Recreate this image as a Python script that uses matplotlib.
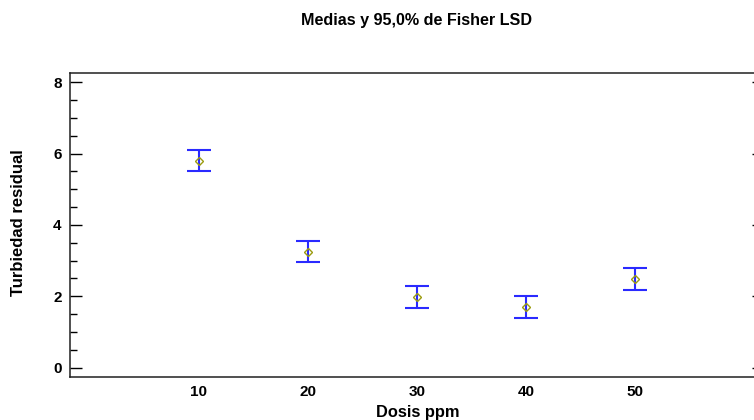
import matplotlib
matplotlib.use("Agg")
import matplotlib.pyplot as plt
from matplotlib.ticker import MultipleLocator

dosis = [10, 20, 30, 40, 50]
medias = [5.80, 3.25, 1.98, 1.70, 2.49]
lsd_half = [0.295, 0.30, 0.30, 0.30, 0.305]
titulo = "Medias y 95,0% de Fisher LSD"
xlabel = "Dosis ppm"
ylabel = "Turbiedad residual"

plt.rcParams['font.family'] = ['Liberation Sans', 'DejaVu Sans']

fig = plt.figure(figsize=(7.54, 4.20), dpi=100)
W, H = 754, 420
left, right, top, bottom = 70, 763.5, 72.7, 376.5
ax = fig.add_axes([left / W, 1 - bottom / H, (right - left) / W, (bottom - top) / H])

ax.errorbar(dosis, medias, yerr=lsd_half, fmt='none', ecolor='#2a2aff',
            elinewidth=1.5, capsize=8.3, capthick=1.5, zorder=2)
ax.plot(dosis, medias, linestyle='none', marker='D', markersize=4.5,
        markerfacecolor='none', markeredgecolor='#9c9c10', markeredgewidth=1.0, zorder=3)

ax.set_xlim(-1.8, 61.8)
ax.set_ylim(-0.25, 8.27)
ax.set_xticks(dosis)
ax.set_xticklabels([str(d) for d in dosis], fontweight='bold', fontsize=11)
ax.yaxis.set_major_locator(MultipleLocator(2))
ax.yaxis.set_minor_locator(MultipleLocator(0.5))
for lab in ax.get_yticklabels():
    lab.set_fontweight('bold')
    lab.set_fontsize(11)
ax.tick_params(axis='x', length=0, pad=6)
ax.tick_params(axis='y', which='major', direction='in', length=8.6, width=1, pad=6,
               right=True)
ax.tick_params(axis='y', which='minor', direction='in', length=5, width=1, left=True, right=False)
for s in ax.spines.values():
    s.set_linewidth(1.1)
    s.set_color('#202020')

fig.text(416.7 / W, 1 - 21 / H, titulo, ha='center', va='center', fontsize=11.6, fontweight='bold')
fig.text(418 / W, 1 - 413 / H, xlabel, ha='center', va='center', fontsize=11.8, fontweight='bold')
fig.text(19 / W, 1 - 223 / H, ylabel, ha='center', va='center', rotation=90, fontsize=12, fontweight='bold')

fig.savefig("out.png", dpi=100)
